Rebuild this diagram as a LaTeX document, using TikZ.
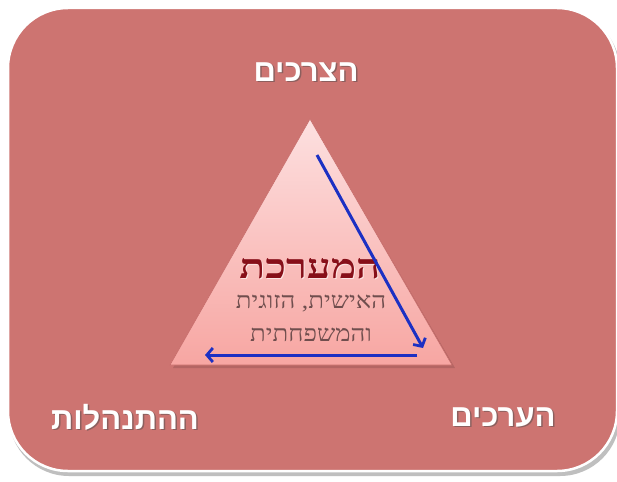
\documentclass[tikz,border=0pt]{standalone}
\usepackage{fontspec}
\newfontfamily\hebsans[Script=Hebrew]{Liberation Sans}
\newfontfamily\hebserif[Script=Hebrew]{Liberation Serif}
\TeXXeTstate=1
\usetikzlibrary{arrows.meta}
\definecolor{bgred}{RGB}{205,116,113}
\definecolor{tritop}{RGB}{253,224,224}
\definecolor{trimid}{RGB}{251,196,194}
\definecolor{tribot}{RGB}{247,166,162}
\definecolor{triedge}{RGB}{200,110,108}
\definecolor{darkred}{RGB}{135,15,25}
\definecolor{subgray}{RGB}{112,78,78}
\definecolor{arrowblue}{RGB}{28,48,195}
\tikzset{
  corner/.style={font=\hebsans\bfseries\fontsize{31}{34}\selectfont, text=white, inner sep=0pt},
  cornershadow/.style={font=\hebsans\bfseries\fontsize{31}{34}\selectfont, text=black!70, opacity=0.5, inner sep=0pt},
  title/.style={font=\hebserif\bfseries\fontsize{34}{36}\selectfont, text=darkred, inner sep=0pt, xscale=1.25},
  subtitle/.style={font=\hebserif\fontsize{23}{33}\selectfont, text=subgray, inner sep=0pt, align=center, xscale=1.12},
  flow/.style={draw=arrowblue, line width=3pt, -{Straight Barb[length=6pt,width=14pt,line width=2.8pt]}},
}
\begin{document}
\begin{tikzpicture}[x=1pt,y=-1pt]
\useasboundingbox (0,0) rectangle (617,481);
\fill[white] (0,0) rectangle (617,481);
% frame shadow and frame
\fill[black!25, rounded corners=60pt] (9,11) rectangle (620,476);
\fill[bgred, draw=white, line width=2.5pt, rounded corners=60pt] (8,8) rectangle (617,471);
% triangle
\coordinate (apex) at (310,119);
\coordinate (bl) at (170,365);
\coordinate (br) at (452,365);
\fill[black, opacity=0.12] (311,122) -- (173,368) -- (455,368) -- cycle;
\shade[top color=tritop, middle color=trimid, bottom color=tribot, draw=triedge, line width=0.6pt] (apex) -- (br) -- (bl) -- cycle;
% arrows
\coordinate (a1s) at (317,155);
\coordinate (a1e) at (423,348);
\coordinate (a2s) at (417,355);
\coordinate (a2e) at (205,355);
% texts
\node[title, text=white, opacity=0.6] at (311,270) {\beginR המערכת\endR};
\node[title] (sys) at (310,269) {\beginR המערכת\endR};
\node[subtitle] (sub) at (311,318) {\beginR האישית, הזוגית\endR\\\beginR והמשפחתית\endR};
\draw[flow] (a1s) -- (a1e);
\draw[flow] (a2s) -- (a2e);
\node[cornershadow] at (307.5,73.5) {\beginR הצרכים\endR};
\node[corner] (needs) at (306,72) {\beginR הצרכים\endR};
\node[cornershadow] at (126.5,418.5) {\beginR ההתנהלות\endR};
\node[corner] (conduct) at (125,417) {\beginR ההתנהלות\endR};
\node[cornershadow] at (504.5,418.5) {\beginR הערכים\endR};
\node[corner] (values) at (503,417) {\beginR הערכים\endR};
\end{tikzpicture}
\end{document}
